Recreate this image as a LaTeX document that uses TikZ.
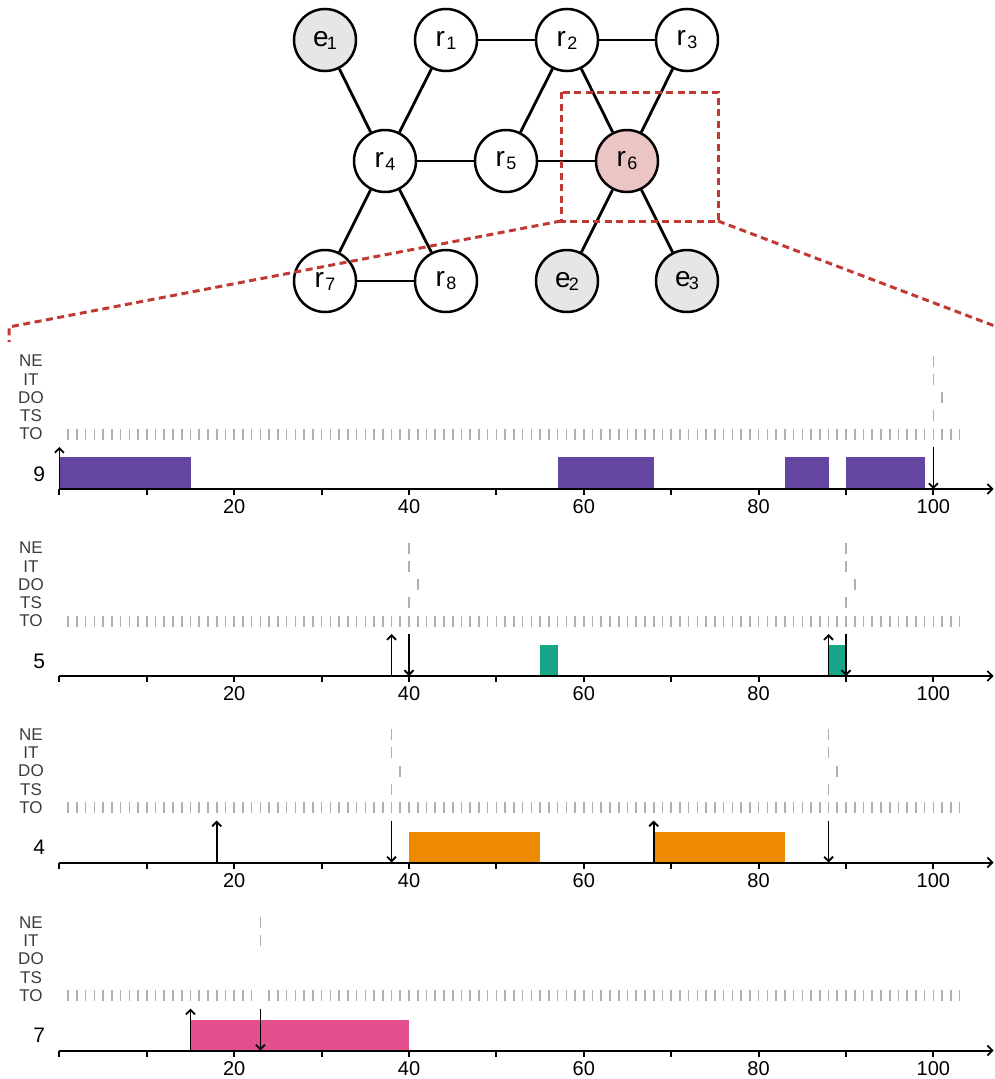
\documentclass[tikz,border=0pt]{standalone}
\usepackage{fontspec}
\setmainfont{Liberation Sans}
\usetikzlibrary{arrows.meta}

\definecolor{extgray}{RGB}{230,230,230}
\definecolor{hotpink}{RGB}{235,196,196}
\definecolor{zoomred}{RGB}{192,57,50}
\definecolor{labgray}{RGB}{60,60,60}
\definecolor{tickgray}{RGB}{176,176,176}
\definecolor{cpurple}{RGB}{100,69,160}
\definecolor{cteal}{RGB}{23,166,138}
\definecolor{corange}{RGB}{238,138,0}
\definecolor{cpink}{RGB}{226,79,140}

% vertex labels with a lowered index
\newcommand\rlab[1]{r\kern1.5pt\raisebox{-3pt}{\fontsize{18}{18}\selectfont #1}}
\newcommand\elab[1]{e\kern-2pt\raisebox{-3pt}{\fontsize{18}{18}\selectfont #1}}

\tikzset{
  vertex/.style={circle, draw, line width=2.5pt, minimum size=62pt, inner sep=0pt,
                 fill=white, font=\fontsize{28}{28}\selectfont},
  extv/.style={vertex, fill=extgray},
  hotv/.style={vertex, fill=hotpink},
  edge/.style={line width=2.8pt},
  zoomline/.style={draw=zoomred, line width=3pt, dash pattern=on 7pt off 4.5pt},
  rowlab/.style={font=\fontsize{17}{17}\selectfont, text=labgray, inner sep=0pt},
  numlab/.style={font=\fontsize{21}{21}\selectfont, inner sep=0pt},
  ticklab/.style={font=\fontsize{20}{20}\selectfont, inner sep=0pt},
  evtick/.style={draw=tickgray, line width=1.6pt},
  axisline/.style={line width=2pt, -{Straight Barb[length=5pt,width=10pt,line width=1.8pt]}},
  axtick/.style={line width=2pt},
  evarrow/.style={line width=1.8pt, -{Straight Barb[length=4.5pt,width=9pt]}},
}

% frame of one timeline: row labels, TO ticks, time axis
% #1 id, #2 count shown at the left, #3 TO position left out (0 = none)
\newcommand\panelbase[3]{%
  \node[rowlab] (ne#1) at (-3.25,-128)   {NE};
  \node[rowlab] (it#1) at (-3.25,-109.75) {IT};
  \node[rowlab] (do#1) at (-3.25,-91.5)  {DO};
  \node[rowlab] (ts#1) at (-3.25,-73.25) {TS};
  \node[rowlab] (to#1) at (-3.25,-55)    {TO};
  \node[numlab] (n#1) at (-2.3,-15) {#2};
  \foreach \t in {1,...,103}{%
    \ifnum\t=#3\relax\else
      \draw[evtick] (\t,-60.5) -- (\t,-49.5);
    \fi}
  \draw[axisline] (0,0) -- (106.9,0);
  \foreach \v in {0,10,...,100} \draw[axtick] (\v,0) -- (\v,6);
  \foreach \v in {20,40,...,100} \node[ticklab] (tl#1-\v) at (\v,18) {\v};
}
% event marks in the NE/IT/DO/TS rows
\newcommand\evmark[2]{\draw[evtick] (#1,#2-5.5) -- (#1,#2+5.5);}
\newcommand\uparr[1]{\draw[evarrow] (#1,0) -- (#1,-42);}
\newcommand\dnarr[1]{\draw[evarrow] (#1,-42) -- (#1,0);}

\begin{document}
\begin{tikzpicture}[x=1pt, y=-1pt]
\useasboundingbox (0,0) rectangle (995,1079);

% ---------- network ----------
\node[extv] (e1) at (325,40)  {\elab{1}};
\node[vertex] (r1) at (446,40)  {\rlab{1}};
\node[vertex] (r2) at (567,40)  {\rlab{2}};
\node[vertex] (r3) at (687,40)  {\rlab{3}};
\node[vertex] (r4) at (385,161) {\rlab{4}};
\node[vertex] (r5) at (506,161) {\rlab{5}};
\node[hotv]   (r6) at (627,161) {\rlab{6}};
\node[vertex] (r7) at (325,281) {\rlab{7}};
\node[vertex] (r8) at (446,281) {\rlab{8}};
\node[extv] (e2) at (567,281) {\elab{2}};
\node[extv] (e3) at (687,281) {\elab{3}};

\foreach \a/\b in {e1/r4, r1/r4, r1/r2, r2/r3, r2/r5, r2/r6, r3/r6,
                   r4/r5, r5/r6, r4/r7, r4/r8, r7/r8, r6/e2, r6/e3}
  \draw[edge] (\a) -- (\b);

% zoom frame around r6
\coordinate (ztl) at (561,92);
\coordinate (zbr) at (718,221);
\coordinate (zbl) at (561,221);
\coordinate (lcor) at (9,327);
\coordinate (lend) at (9,342);
\coordinate (rend) at (996,326.5);
\draw[zoomline] (ztl) rectangle (zbr);
\draw[zoomline] (zbl) -- (lcor) -- (lend);
\draw[zoomline] (zbr) -- (rend);

% ---------- timeline 9 ----------
\begin{scope}[shift={(59.4pt,-489pt)}, x=8.74pt]
  \fill[cpurple] (0,0) rectangle (15,-32);
  \fill[cpurple] (57,0) rectangle (68,-32);
  \fill[cpurple] (83,0) rectangle (88,-32);
  \fill[cpurple] (90,0) rectangle (99,-32);
  \panelbase{a}{9}{0}
  \evmark{100}{-128}\evmark{100}{-109.75}\evmark{101}{-91.5}\evmark{100}{-73.25}
  \uparr{0}\dnarr{100}
\end{scope}

% ---------- timeline 5 ----------
\begin{scope}[shift={(59.4pt,-676pt)}, x=8.74pt]
  \fill[cteal] (55,0) rectangle (57,-31.5);
  \fill[cteal] (88,0) rectangle (90,-31.5);
  \panelbase{b}{5}{0}
  \evmark{40}{-128}\evmark{40}{-109.75}\evmark{41}{-91.5}\evmark{40}{-73.25}
  \evmark{90}{-128}\evmark{90}{-109.75}\evmark{91}{-91.5}\evmark{90}{-73.25}
  \uparr{38}\dnarr{40}\uparr{88}\dnarr{90}
\end{scope}

% ---------- timeline 4 ----------
\begin{scope}[shift={(59.4pt,-862.5pt)}, x=8.74pt]
  \fill[corange] (40,0) rectangle (55,-31);
  \fill[corange] (68,0) rectangle (83,-31);
  \panelbase{c}{4}{0}
  \evmark{38}{-128}\evmark{38}{-109.75}\evmark{39}{-91.5}\evmark{38}{-73.25}
  \evmark{88}{-128}\evmark{88}{-109.75}\evmark{89}{-91.5}\evmark{88}{-73.25}
  \uparr{18}\dnarr{38}\uparr{68}\dnarr{88}
\end{scope}

% ---------- timeline 7 ----------
\begin{scope}[shift={(59.4pt,-1050.5pt)}, x=8.74pt]
  \fill[cpink] (15,0) rectangle (40,-31);
  \panelbase{d}{7}{23}
  \evmark{23}{-128}\evmark{23}{-109.75}
  \uparr{15}\dnarr{23}
\end{scope}
\end{tikzpicture}
\end{document}
